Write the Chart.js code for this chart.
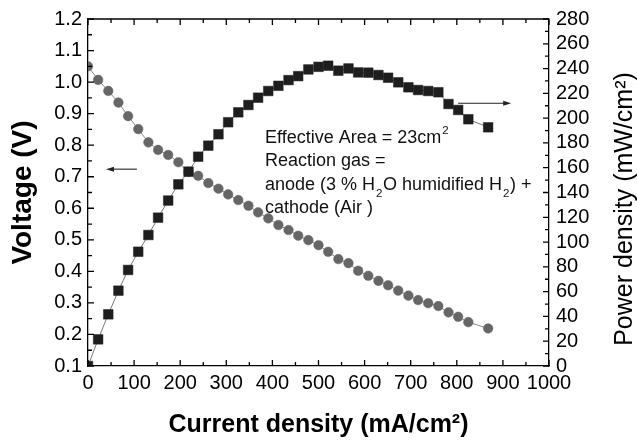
<!DOCTYPE html>
<html>
<head>
<meta charset="utf-8">
<script src="https://cdn.jsdelivr.net/npm/chart.js@4.4.0/dist/chart.umd.min.js"></script>
<style>
  body { margin: 0; background: #fff; }
</style>
</head>
<body>
<canvas id="myChart" width="637" height="442"></canvas>
<script>
// values
const currentDensity = [
  0, 22, 44, 66, 87, 109, 131, 152, 174, 196,
  218, 239, 261, 283, 304, 326, 348, 369, 391, 413,
  435, 456, 478, 500, 521, 543, 565, 586, 608, 630,
  651, 673, 695, 716, 738, 760, 782, 803, 825, 868
];
const voltage = [
  1.05, 1.007, 0.972, 0.935, 0.892, 0.851, 0.809, 0.785, 0.769, 0.746,
  0.716, 0.703, 0.680, 0.662, 0.644, 0.626, 0.608, 0.587, 0.568, 0.547,
  0.531, 0.513, 0.499, 0.483, 0.462, 0.439, 0.426, 0.402, 0.386, 0.370,
  0.356, 0.339, 0.323, 0.309, 0.299, 0.290, 0.270, 0.256, 0.239, 0.219
];
const powerDensity = [
  0, 21.5, 41.7, 60.8, 77.5, 92.2, 105.7, 119.7, 133.5, 146.6,
  156.8, 168.9, 177.8, 187, 196.7, 204.7, 210.6, 216.5, 221.9, 226.1,
  230.7, 233.9, 239.3, 241.4, 242.3, 238.3, 240.1, 236.9, 236.7, 234.8,
  232.6, 228.9, 224.9, 222.7, 221.9, 220.9, 211.4, 206.6, 199.1, 192.6
];

const xTitle = 'Current density (mA/cm²)';
const yTitle = 'Voltage (V)';
const y2Title = 'Power density (mW/cm²)';

// note in the middle of the plot (position in data units of x / left y)
const noteAt = { x: 384, y: 0.807 };
const noteLines = [
  [['Effective Area = 23cm'], ['2', 'sup']],
  [['Reaction gas =']],
  [['anode (3 % H'], ['2', 'sub'], ['O humidified H'], ['2', 'sub'], [') +']],
  [['cathode (Air )']]
];
// arrows pointing each curve to its axis
const voltArrow = { from: 106, to: 39, y: 0.724 };
const powerArrow = { from: 803, to: 918, y: 212 };

const FONT = "'Liberation Sans', Arial, Helvetica, sans-serif";

function arrow(ctx, x1, y, x2) {
  const dir = Math.sign(x2 - x1);
  ctx.beginPath();
  ctx.moveTo(x1, y);
  ctx.lineTo(x2 - dir * 6, y);
  ctx.stroke();
  ctx.beginPath();
  ctx.moveTo(x2, y);
  ctx.lineTo(x2 - dir * 8, y - 2.5);
  ctx.lineTo(x2 - dir * 8, y + 2.5);
  ctx.closePath();
  ctx.fill();
}

const frameAndNotes = {
  id: 'frameAndNotes',
  afterDraw(chart) {
    const { ctx, chartArea: a, scales } = chart;
    const x = scales.x, y = scales.y, y2 = scales.y2;
    ctx.save();
    ctx.strokeStyle = '#000';
    ctx.fillStyle = '#000';
    ctx.lineWidth = 1.3;

    // top side of the frame
    ctx.beginPath();
    ctx.moveTo(a.left, a.top);
    ctx.lineTo(a.right, a.top);
    ctx.stroke();

    // inward tick marks
    ctx.beginPath();
    for (let v = 0; v <= 1000; v += 50) {
      const px = x.getPixelForValue(v);
      const len = v % 100 === 0 ? 6 : 4;
      ctx.moveTo(px, a.bottom); ctx.lineTo(px, a.bottom - len);
      ctx.moveTo(px, a.top); ctx.lineTo(px, a.top + len);
    }
    for (let i = 0; i <= 22; i++) {
      const py = y.getPixelForValue(0.1 + i * 0.05);
      const len = i % 2 === 0 ? 6 : 4;
      ctx.moveTo(a.left, py); ctx.lineTo(a.left + len, py);
    }
    for (let v = 0; v <= 280; v += 10) {
      const py = y2.getPixelForValue(v);
      const len = v % 20 === 0 ? 6 : 4;
      ctx.moveTo(a.right, py); ctx.lineTo(a.right - len, py);
    }
    ctx.stroke();

    // arrows
    ctx.lineWidth = 1.1;
    ctx.strokeStyle = '#222';
    ctx.fillStyle = '#222';
    arrow(ctx, x.getPixelForValue(voltArrow.from), y.getPixelForValue(voltArrow.y), x.getPixelForValue(voltArrow.to));
    arrow(ctx, x.getPixelForValue(powerArrow.from), y2.getPixelForValue(powerArrow.y), x.getPixelForValue(powerArrow.to));

    // text note with sub/superscripts
    ctx.fillStyle = '#111';
    ctx.textBaseline = 'alphabetic';
    ctx.textAlign = 'left';
    const nx = x.getPixelForValue(noteAt.x);
    let ny = y.getPixelForValue(noteAt.y);
    noteLines.forEach(parts => {
      let cx = nx;
      parts.forEach(([t, kind]) => {
        if (kind) {
          ctx.font = '11.5px ' + FONT;
          ctx.fillText(t, cx + 1, kind === 'sup' ? ny - 9 : ny + 7);
          cx += ctx.measureText(t).width + 1.5;
        } else {
          ctx.font = '18px ' + FONT;
          ctx.fillText(t, cx, ny);
          cx += ctx.measureText(t).width;
        }
      });
      ny += 23.3;
    });

    // right axis title, reading bottom to top
    ctx.save();
    ctx.translate(625, 209);
    ctx.rotate(-Math.PI / 2);
    ctx.font = '25px ' + FONT;
    ctx.textAlign = 'center';
    ctx.textBaseline = 'middle';
    ctx.fillStyle = '#000';
    ctx.fillText(y2Title, 0, 0);
    ctx.restore();

    ctx.restore();
  }
};

const tickFont = { family: FONT, size: 20 };

const config = {
  type: 'line',
  data: {
    datasets: [
      {
        label: 'Power density',
        yAxisID: 'y2',
        data: currentDensity.map((c, i) => ({ x: c, y: powerDensity[i] })),
        borderColor: '#777',
        borderWidth: 1,
        pointStyle: 'rect',
        pointRadius: 6.8,
        pointBackgroundColor: '#1e1e1e',
        pointBorderColor: '#1e1e1e',
        pointBorderWidth: 0.5,
        tension: 0
      },
      {
        label: 'Voltage',
        yAxisID: 'y',
        data: currentDensity.map((c, i) => ({ x: c, y: voltage[i] })),
        borderColor: '#888',
        borderWidth: 1,
        pointStyle: 'circle',
        pointRadius: 4.8,
        pointBackgroundColor: '#666',
        pointBorderColor: '#666',
        pointBorderWidth: 0.5,
        tension: 0
      }
    ]
  },
  options: {
    responsive: false,
    animation: false,
    devicePixelRatio: 1,
    layout: { padding: { top: 19, left: 0, right: 0, bottom: 0 } },
    plugins: {
      legend: { display: false },
      tooltip: { enabled: false }
    },
    scales: {
      x: {
        type: 'linear',
        min: 0,
        max: 1000,
        grid: { display: false, drawTicks: false, tickLength: 0 },
        border: { color: '#000', width: 1.3 },
        ticks: {
          stepSize: 100,
          autoSkip: false,
          color: '#000',
          font: tickFont,
          padding: 5,
          maxRotation: 0,
          callback: v => String(v)
        },
        title: {
          display: true,
          text: xTitle,
          color: '#000',
          font: { family: FONT, size: 25, weight: 'bold' },
          padding: { top: 0, bottom: 2 }
        },
        afterFit(scale) { scale.height = 76; }
      },
      y: {
        position: 'left',
        min: 0.1,
        max: 1.2,
        grid: { display: false, drawTicks: false, tickLength: 0 },
        border: { color: '#000', width: 1.3 },
        ticks: {
          stepSize: 0.1,
          autoSkip: false,
          color: '#000',
          font: tickFont,
          padding: 6,
          callback: v => v.toFixed(1)
        },
        title: {
          display: true,
          text: yTitle,
          color: '#000',
          font: { family: FONT, size: 28, weight: 'bold' },
          padding: { top: 6, bottom: 0 }
        },
        afterFit(scale) { scale.width = 88; }
      },
      y2: {
        position: 'right',
        min: 0,
        max: 280,
        grid: { display: false, drawTicks: false, tickLength: 0 },
        border: { color: '#000', width: 1.3 },
        ticks: { stepSize: 20, autoSkip: false, color: '#000', font: tickFont, padding: 7 },
        afterFit(scale) { scale.width = 88; }
      }
    }
  },
  plugins: [frameAndNotes]
};

const myChart = new Chart(document.getElementById('myChart'), config);
</script>
</body>
</html>
